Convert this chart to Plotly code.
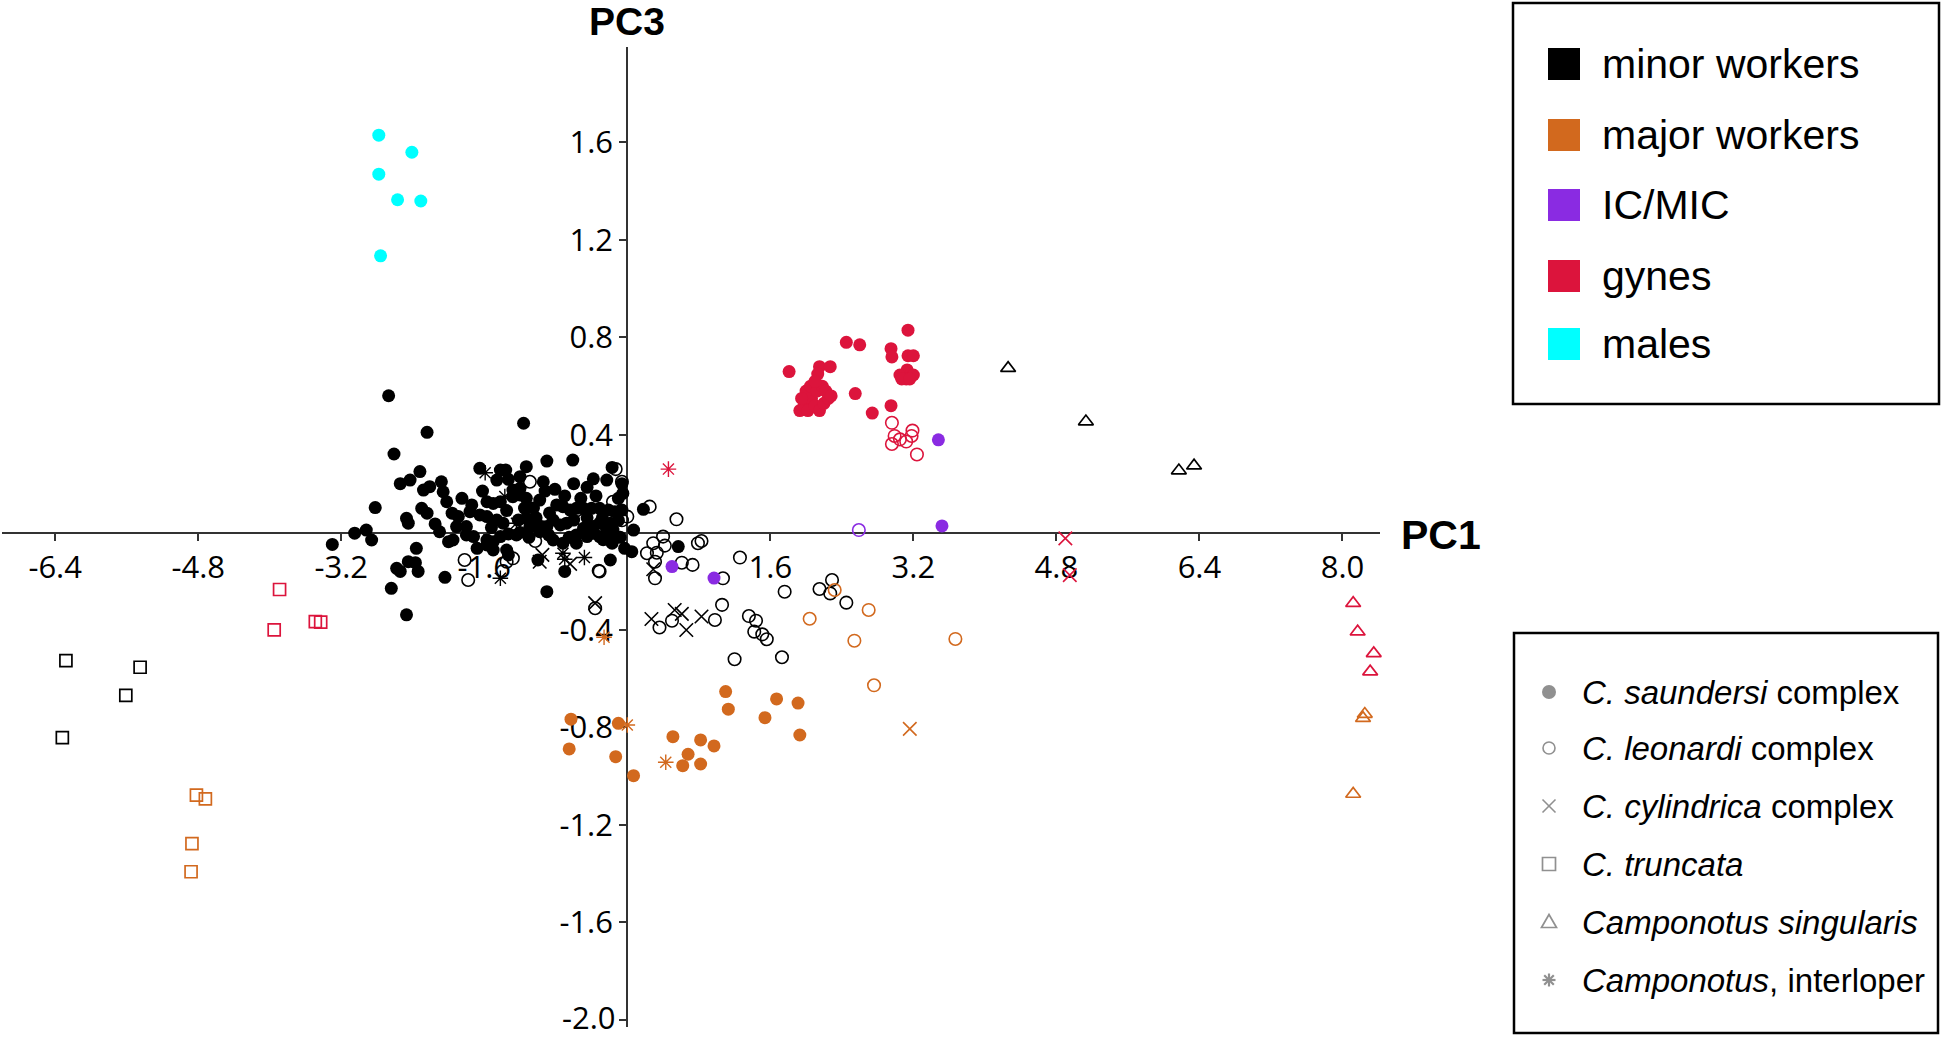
import plotly.graph_objects as go

W, H = 1942, 1037

# ---------------- data (PC1, PC3) ----------------
# minor workers
minor_saund_x = [-2.67,-2.24,-1.16,-2.61,-1.65,-1.42,-1.36,-1.13,-0.90,-0.61,-0.17,-2.32,-2.54,-2.43,-1.46,-1.33,-1.20,-0.94,-0.23,-0.06,
                 -2.21,-2.28,-2.08,-2.06,-0.45,-0.81,-1.28,-1.20,-2.02,-1.85,-1.74,-2.30,-2.24,-1.57,-1.50,-1.42,-1.28,-1.20,-1.13,-0.98,
                 -0.79,-0.72,-0.64,-0.57,-0.49,-0.40,-0.31,-0.21,-0.14,-0.06,-1.96,-1.89,-1.76,-1.65,-2.47,-2.45,-2.82,-2.15,-2.10,-1.91,
                 -1.80,-1.57,-1.46,-1.39,-1.22,-1.13,-1.05,-0.96,-0.83,-0.75,-0.68,-0.60,-0.49,-0.38,-0.31,-0.24,-0.16,-3.05,-2.92,-2.86,
                 -3.30,-2.00,-1.95,-1.80,-1.72,-1.57,-1.50,-1.42,-1.33,-1.24,-1.68,-1.57,-1.50,-1.35,-1.33,-1.09,-0.98,-0.90,-0.83,-0.72,
                 -0.57,-0.57,-0.45,-0.38,-0.31,-0.19,-0.17,0.07,-0.03,0.05,-0.19,-1.00,-0.70,-2.36,-2.45,-2.37,-2.58,-2.54,-2.34,-2.04,
                 -2.64,-2.47,-0.90,0.57,0.18,-0.19,-1.05,-0.87,-0.70,-0.52,-0.35,-0.28,-0.10,-1.15,-1.35,-0.92,-0.60,-0.38,-1.02,-0.45,
                 -1.62,-1.52,-1.20,-0.88,-1.10,-0.65,-0.27,-0.08,-0.10,-0.05]
minor_saund_y = [0.561,0.411,0.448,0.322,0.263,0.256,0.256,0.270,0.293,0.297,0.267,0.250,0.200,0.215,0.215,0.218,0.229,0.208,0.215,0.200,
                 0.188,0.174,0.208,0.167,0.185,0.177,0.174,0.181,0.126,0.140,0.113,0.099,0.079,0.126,0.119,0.126,0.147,0.154,0.140,0.133,
                 0.113,0.106,0.092,0.099,0.099,0.099,0.099,0.092,0.085,0.092,0.079,0.065,0.085,0.072,0.058,0.038,0.102,0.035,0.003,0.024,
                 0.024,0.065,0.051,0.038,0.051,0.058,0.038,0.024,0.051,0.031,0.038,0.051,0.017,0.024,0.038,0.024,0.010,-0.003,0.010,-0.031,
                 -0.049,-0.038,-0.031,-0.010,-0.017,-0.031,-0.038,-0.017,-0.006,-0.010,-0.065,-0.051,-0.072,-0.072,-0.092,0.024,0.003,0.024,-0.031,-0.044,
                 -0.010,-0.044,-0.017,-0.003,-0.017,-0.010,-0.044,0.010,-0.065,-0.079,-0.113,-0.113,-0.160,-0.065,-0.120,-0.124,-0.147,-0.160,-0.160,-0.184,
                 -0.229,-0.338,-0.243,-0.058,0.095,0.038,0.100,0.080,0.150,0.140,0.150,0.060,0.050,0.100,0.090,0.170,0.200,0.220,0.060,0.060,
                 0.170,0.020,0.000,-0.010,-0.020,-0.020,-0.030,-0.020,0.140,0.160]
minor_leon_x = [0.55,0.40,0.29,0.42,0.22,0.33,0.61,0.73,0.31,0.31,0.79,0.83,1.26,1.07,1.76,2.15,2.29,2.27,2.45,1.06,
                0.98,0.50,0.36,1.36,1.44,1.42,1.51,1.56,1.20,1.73,-0.36,-0.31,0.00,0.25,-1.09,-0.13,-0.06,-0.16,-0.06,-0.49,
                -1.03,-1.28,-1.35,-1.82,-1.78,-0.32]
minor_leon_y = [0.054,-0.017,-0.044,-0.054,-0.085,-0.083,-0.124,-0.133,-0.120,-0.188,-0.044,-0.035,-0.103,-0.188,-0.243,-0.232,-0.195,-0.250,-0.288,-0.297,
                -0.359,-0.362,-0.390,-0.343,-0.362,-0.407,-0.418,-0.438,-0.520,-0.512,-0.311,-0.160,0.065,0.106,0.208,0.260,0.208,0.126,0.050,0.050,
                -0.035,-0.106,-0.120,-0.113,-0.195,-0.157]
minor_cyl_x = [-0.95,-0.98,-0.64,-0.36,0.29,0.27,0.53,0.61,0.66,0.83]
minor_cyl_y = [-0.092,-0.120,-0.129,-0.290,-0.151,-0.355,-0.318,-0.334,-0.400,-0.345]
minor_trunc_x = [-6.28,-5.45,-5.61,-6.32]
minor_trunc_y = [-0.526,-0.553,-0.668,-0.842]
minor_sing_x = [4.26,5.13,6.17,6.34]
minor_sing_y = [0.674,0.455,0.254,0.274]
minor_inter_x = [-1.59,-1.37,-1.24,-0.72,-0.48,-1.42,-0.70]
minor_inter_y = [0.245,0.147,0.038,-0.085,-0.103,-0.188,-0.110]

# major workers
major_saund_x = [-0.63,-0.65,-0.10,-0.13,0.07,0.51,0.68,0.62,0.82,0.82,0.97,1.10,1.13,1.54,1.67,1.91,1.93]
major_saund_y = [-0.766,-0.888,-0.783,-0.920,-0.998,-0.838,-0.910,-0.957,-0.851,-0.950,-0.876,-0.653,-0.725,-0.760,-0.683,-0.700,-0.831]
major_leon_x = [2.04,2.70,2.54,2.76,3.67,2.32]
major_leon_y = [-0.354,-0.318,-0.444,-0.627,-0.437,-0.236]
major_cyl_x = [3.16]
major_cyl_y = [-0.806]
major_trunc_x = [-4.82,-4.72,-4.87,-4.88]
major_trunc_y = [-1.078,-1.093,-1.277,-1.392]
major_sing_x = [8.25,8.23,8.12,8.84]
major_sing_y = [-0.745,-0.762,-1.073,-1.204]
major_inter_x = [-0.26,0.00,0.43]
major_inter_y = [-0.430,-0.790,-0.943]

# IC/MIC
icmic_saund_x = [3.48,3.52,0.50,0.97]
icmic_saund_y = [0.380,0.027,-0.140,-0.187]
icmic_leon_x = [2.59]
icmic_leon_y = [0.010]

# gynes
gyne_saund_x = [3.14,2.45,2.60,2.95,2.96,3.14,3.20,2.15,2.27,2.13,3.13,3.05,3.20,3.12,1.81,
                1.93,1.98,2.02,2.06,2.10,2.15,2.20,2.25,2.00,2.05,2.12,2.18,2.10,1.95,2.22,2.28,
                2.55,2.74,2.95,3.07,3.16]
gyne_saund_y = [0.830,0.780,0.770,0.754,0.720,0.725,0.725,0.680,0.680,0.650,0.667,0.646,0.646,0.630,0.660,
                0.500,0.520,0.500,0.550,0.520,0.500,0.530,0.550,0.580,0.600,0.580,0.600,0.620,0.550,0.580,0.560,
                0.570,0.490,0.520,0.630,0.630]
gyne_leon_x = [2.96,2.99,2.96,3.05,3.12,3.18,3.19,3.24]
gyne_leon_y = [0.450,0.396,0.363,0.382,0.373,0.396,0.418,0.320]
gyne_cyl_x = [4.90,4.95]
gyne_cyl_y = [-0.024,-0.175]
gyne_trunc_x = [-3.89,-3.95,-3.49,-3.43]
gyne_trunc_y = [-0.234,-0.400,-0.366,-0.368]
gyne_sing_x = [8.12,8.17,8.35,8.31]
gyne_sing_y = [-0.290,-0.407,-0.496,-0.571]
gyne_inter_x = [0.46]
gyne_inter_y = [0.260]

# males
male_saund_x = [-2.78,-2.41,-2.78,-2.57,-2.31,-2.76]
male_saund_y = [1.630,1.560,1.470,1.365,1.360,1.135]

x_ticks = [-6.4,-4.8,-3.2,-1.6,1.6,3.2,4.8,6.4,8.0]
y_ticks = [-2.0,-1.6,-1.2,-0.8,-0.4,0.4,0.8,1.2,1.6]

caste_labels = ["minor workers","major workers","IC/MIC","gynes","males"]
caste_colors = ["#000000","#D2691E","#8A2BE2","#DC143C","#00FFFF"]
species_labels = ["<i>C. saundersi</i> complex","<i>C. leonardi</i> complex","<i>C. cylindrica</i> complex",
                  "<i>C. truncata</i>","<i>Camponotus singularis</i>","<i>Camponotus</i>, interloper"]

BLACK, ORANGE, PURPLE, RED, CYAN = caste_colors

# ---------------- figure ----------------
fig = go.Figure()

STY = {
    "saund": dict(symbol="circle", size=13, lw=0),
    "leon": dict(symbol="circle-open", size=12.5, lw=1.6),
    "cyl": dict(symbol="x-thin-open", size=13.5, lw=1.6),
    "trunc": dict(symbol="square-open", size=12, lw=1.7),
    "sing": dict(symbol="triangle-up-open", size=13, lw=1.7),
    "inter": dict(symbol="asterisk-open", size=13, lw=1.4),
}

def add(xs, ys, color, kind):
    s = STY[kind]
    fig.add_trace(go.Scatter(
        x=xs, y=ys, mode="markers", showlegend=False, hoverinfo="x+y",
        cliponaxis=False,
        marker=dict(symbol=s["symbol"], size=s["size"], color=color,
                    line=dict(color=color, width=s["lw"])),
    ))

add(minor_saund_x, minor_saund_y, BLACK, "saund")
add(minor_leon_x, minor_leon_y, BLACK, "leon")
add(minor_cyl_x, minor_cyl_y, BLACK, "cyl")
add(minor_trunc_x, minor_trunc_y, BLACK, "trunc")
add(minor_sing_x, minor_sing_y, BLACK, "sing")
add(minor_inter_x, minor_inter_y, BLACK, "inter")
add(major_saund_x, major_saund_y, ORANGE, "saund")
add(major_leon_x, major_leon_y, ORANGE, "leon")
add(major_cyl_x, major_cyl_y, ORANGE, "cyl")
add(major_trunc_x, major_trunc_y, ORANGE, "trunc")
add(major_sing_x, major_sing_y, ORANGE, "sing")
add(major_inter_x, major_inter_y, ORANGE, "inter")
add(icmic_saund_x, icmic_saund_y, PURPLE, "saund")
add(icmic_leon_x, icmic_leon_y, PURPLE, "leon")
add(gyne_saund_x, gyne_saund_y, RED, "saund")
add(gyne_leon_x, gyne_leon_y, RED, "leon")
add(gyne_cyl_x, gyne_cyl_y, RED, "cyl")
add(gyne_trunc_x, gyne_trunc_y, RED, "trunc")
add(gyne_sing_x, gyne_sing_y, RED, "sing")
add(gyne_inter_x, gyne_inter_y, RED, "inter")
add(male_saund_x, male_saund_y, CYAN, "saund")

def px(x):
    return x / W

def py(y):
    return 1 - y / H

AX = "#333333"
tickfont = dict(family="Open Sans", size=31, color="black")

# the lowest y tick label sits on the bottom edge of the page; it is drawn as an annotation
# so that it stays inside the page
y_ticks_axis = [v for v in y_ticks if v > -1.9]
y_tick_bottom = [v for v in y_ticks if v <= -1.9]

fig.update_layout(
    width=W, height=H,
    margin=dict(l=0, r=0, t=0, b=0),
    paper_bgcolor="white", plot_bgcolor="white",
    showlegend=False,
    xaxis=dict(domain=[px(2), px(1380)], range=[-6.995, 8.42], anchor="free", position=py(532.5),
               showline=True, linecolor=AX, linewidth=2.2, ticks="outside", ticklen=7, tickwidth=1.5,
               tickcolor=AX, tickvals=x_ticks, ticktext=[f"{v:.1f}" for v in x_ticks],
               tickfont=tickfont, showgrid=False, zeroline=False, layer="below traces"),
    yaxis=dict(domain=[py(1027), py(46.7)], range=[-2.029, 1.993], anchor="free", position=px(627.3),
               showline=True, linecolor=AX, linewidth=2.2, ticks="outside", ticklen=7, tickwidth=1.5,
               tickcolor=AX, tickvals=y_ticks, ticktext=[f"{v:.1f}" if v in y_ticks_axis else "" for v in y_ticks],
               tickfont=tickfont, showgrid=False, zeroline=False, layer="below traces"),
)

shapes = []
annotations = []

for v in y_tick_bottom:
    annotations.append(dict(x=px(618), y=0, xref="paper", yref="paper", text=f"{v:.1f}",
                            showarrow=False, xanchor="right", yanchor="bottom", yshift=-3,
                            font=tickfont))

# axis titles
annotations.append(dict(x=px(627), y=py(22), xref="paper", yref="paper", text="<b>PC3</b>",
                        showarrow=False, xanchor="center", yanchor="middle",
                        font=dict(family="Liberation Sans", size=39, color="black")))
annotations.append(dict(x=px(1399), y=py(535), xref="paper", yref="paper", text="<b>PC1</b>",
                        showarrow=False, xanchor="left", yanchor="middle",
                        font=dict(family="Liberation Sans", size=41, color="black")))

# legend box 1 (castes)
shapes.append(dict(type="rect", xref="paper", yref="paper", x0=px(1513), x1=px(1939), y0=py(404), y1=py(3),
                   line=dict(color="black", width=2.5), fillcolor="rgba(0,0,0,0)"))
rows1 = [64, 135, 205, 276, 344]
for lab, col, ry in zip(caste_labels, caste_colors, rows1):
    shapes.append(dict(type="rect", xref="paper", yref="paper", x0=px(1548), x1=px(1580),
                       y0=py(ry + 16), y1=py(ry - 16), line=dict(width=0), fillcolor=col))
    annotations.append(dict(x=px(1600), y=py(ry), xref="paper", yref="paper", text=lab, showarrow=False,
                            xanchor="left", yanchor="middle",
                            font=dict(family="Liberation Sans", size=41, color="black")))

# legend box 2 (species)
shapes.append(dict(type="rect", xref="paper", yref="paper", x0=px(1514), x1=px(1938), y0=py(1033), y1=py(633),
                   line=dict(color="black", width=2.5), fillcolor="rgba(0,0,0,0)"))
rows2 = [692, 748, 806, 864, 922, 980]
G = "#909090"
mx = 1549
r = 7
for i, (lab, ry) in enumerate(zip(species_labels, rows2)):
    if i == 0:
        shapes.append(dict(type="circle", xref="paper", yref="paper", x0=px(mx - r), x1=px(mx + r),
                           y0=py(ry + r), y1=py(ry - r), line=dict(width=0), fillcolor=G))
    elif i == 1:
        shapes.append(dict(type="circle", xref="paper", yref="paper", x0=px(mx - 6), x1=px(mx + 6),
                           y0=py(ry + 6), y1=py(ry - 6), line=dict(width=1.6, color=G)))
    elif i == 2:
        for (a, b, c, d) in [(-6.5, -6.5, 6.5, 6.5), (-6.5, 6.5, 6.5, -6.5)]:
            shapes.append(dict(type="line", xref="paper", yref="paper", x0=px(mx + a), y0=py(ry + b),
                               x1=px(mx + c), y1=py(ry + d), line=dict(width=1.6, color=G)))
    elif i == 3:
        shapes.append(dict(type="rect", xref="paper", yref="paper", x0=px(mx - 6.5), x1=px(mx + 6.5),
                           y0=py(ry + 6.5), y1=py(ry - 6.5), line=dict(width=1.7, color=G)))
    elif i == 4:
        path = f"M {px(mx-7.5)} {py(ry+5.5)} L {px(mx+7.5)} {py(ry+5.5)} L {px(mx)} {py(ry-7.5)} Z"
        shapes.append(dict(type="path", xref="paper", yref="paper", path=path, line=dict(width=1.7, color=G)))
    else:
        for (a, b, c, d) in [(-6.5, 0, 6.5, 0), (0, -6.5, 0, 6.5), (-4.8, -4.8, 4.8, 4.8), (-4.8, 4.8, 4.8, -4.8)]:
            shapes.append(dict(type="line", xref="paper", yref="paper", x0=px(mx + a), y0=py(ry + b),
                               x1=px(mx + c), y1=py(ry + d), line=dict(width=2.2, color=G)))
    annotations.append(dict(x=px(1580), y=py(ry), xref="paper", yref="paper", text=lab, showarrow=False,
                            xanchor="left", yanchor="middle",
                            font=dict(family="Liberation Sans", size=33, color="black")))

fig.update_layout(shapes=shapes, annotations=annotations)

post = "document.body.style.margin='0';document.body.style.overflow='hidden';"
fig.write_html("out.html", config={"displayModeBar": False}, post_script=post)
